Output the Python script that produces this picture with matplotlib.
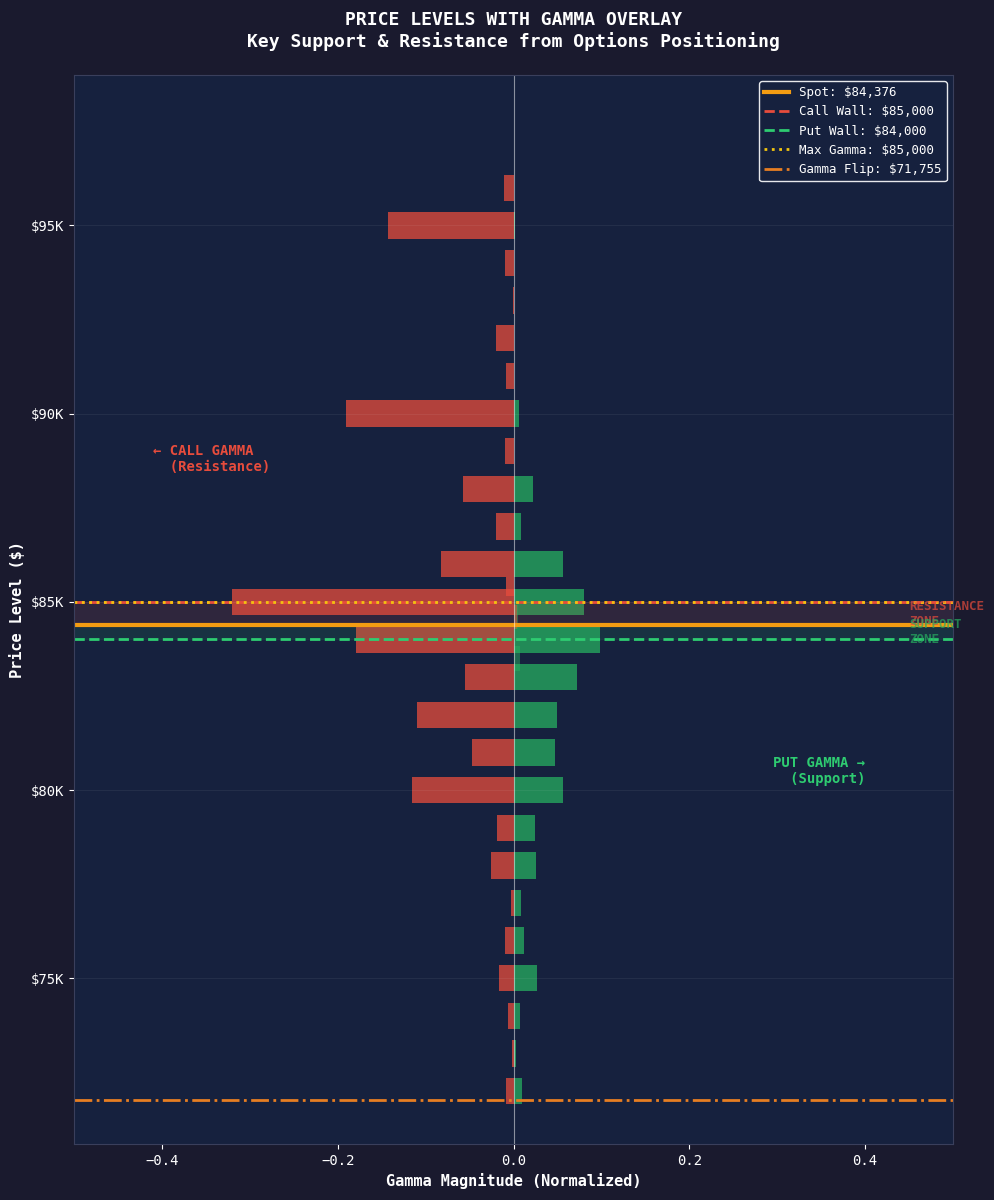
import matplotlib
matplotlib.use("Agg")
import matplotlib.pyplot as plt
from matplotlib.ticker import FuncFormatter

plt.rcParams['font.family'] = 'DejaVu Sans Mono'

levels = [96000, 95000, 94000, 93000, 92000, 91000, 90000, 89000, 88000, 87000, 86000,
          85000, 84000, 83000, 82000, 81000, 80000, 79000, 78000, 77000, 76000, 75000,
          74000, 73000, 72000]
call_gamma = [-0.011, -0.143, -0.010, -0.001, -0.020, -0.009, -0.191, -0.010, -0.057, -0.020, -0.083,
              -0.320, -0.179, -0.055, -0.110, -0.047, -0.116, -0.019, -0.026, -0.003, -0.010, -0.017,
              -0.006, -0.002, -0.009]
put_gamma = [0.0, 0.002, 0.0, 0.0, 0.0, 0.0, 0.006, 0.0, 0.022, 0.009, 0.056,
             0.080, 0.098, 0.072, 0.049, 0.047, 0.056, 0.024, 0.026, 0.008, 0.012, 0.027,
             0.007, 0.003, 0.010]
# small odd-strike bars
extra_levels = [85400, 84600, 83500]
extra_call = [-0.008, 0.0, 0.0]
extra_put = [0.0, 0.005, 0.007]

spot = 84376
call_wall = 85000
put_wall = 84000
max_gamma = 85000
gamma_flip = 71755

red = '#e74c3c'
green = '#27ae60'

fig = plt.figure(figsize=(9.95, 12), dpi=100, facecolor='#1a1a2e')
ax = fig.add_axes([0.0744, 0.0467, 0.8834, 0.891])
ax.set_facecolor('#16213e')

ax.barh(levels, call_gamma, height=700, color=red, alpha=0.75)
ax.barh(levels, put_gamma, height=700, color=green, alpha=0.75)
ax.barh(extra_levels, extra_call, height=500, color=red, alpha=0.75)
ax.barh(extra_levels, extra_put, height=650, color=green, alpha=0.5)
ax.barh([84600], [0.004], height=650, color=red, alpha=0.5)

ax.axhspan(spot, call_wall, color=red, alpha=0.12)
ax.axhspan(put_wall, spot, color=green, alpha=0.12)

ax.axhline(spot, color='#f39c12', lw=3, label=f'Spot: ${spot:,}')
ax.axhline(call_wall, color=red, lw=2, ls='--', label=f'Call Wall: ${call_wall:,}')
ax.axhline(put_wall, color='#2ecc71', lw=2, ls='--', label=f'Put Wall: ${put_wall:,}')
ax.axhline(max_gamma, color='#f1c40f', lw=2, ls=':', label=f'Max Gamma: ${max_gamma:,}')
ax.axhline(gamma_flip, color='#e67e22', lw=2, ls='-.', label=f'Gamma Flip: ${gamma_flip:,}')
ax.axvline(0, color='white', lw=0.8, alpha=0.5)

ax.text(0.45, (spot + call_wall) / 2, 'RESISTANCE\nZONE', color=red, alpha=0.7,
        fontsize=9, fontweight='bold', va='center', ha='left')
ax.text(0.45, (put_wall + spot) / 2, 'SUPPORT\nZONE', color=green, alpha=0.7,
        fontsize=9, fontweight='bold', va='center', ha='left')
ax.text(-0.41, 88800, '← CALL GAMMA\n  (Resistance)', color=red, fontsize=10,
        fontweight='bold', va='center', ha='left')
ax.text(0.40, 80500, 'PUT GAMMA →\n   (Support)', color='#2ecc71', fontsize=10,
        fontweight='bold', va='center', ha='right')

ax.set_xlim(-0.5, 0.5)
ax.set_ylim(70600, 99000)
ax.set_yticks([75000, 80000, 85000, 90000, 95000])
ax.yaxis.set_major_formatter(FuncFormatter(lambda v, p: f'${v/1000:.0f}K'))
ax.grid(axis='y', color='white', alpha=0.06)
ax.tick_params(colors='white', labelsize=10)
for s in ax.spines.values():
    s.set_color('#3a3f5c')

ax.set_xlabel('Gamma Magnitude (Normalized)', color='white', fontsize=11, fontweight='bold')
ax.set_ylabel('Price Level ($)', color='white', fontsize=11, fontweight='bold')
ax.set_title('PRICE LEVELS WITH GAMMA OVERLAY\nKey Support & Resistance from Options Positioning',
             color='white', fontsize=13, fontweight='bold', pad=20)

leg = ax.legend(loc='upper right', fontsize=9, facecolor='#16213e', edgecolor='white',
                labelcolor='white', framealpha=0.9)

fig.savefig('out.png', dpi=100, facecolor=fig.get_facecolor())
